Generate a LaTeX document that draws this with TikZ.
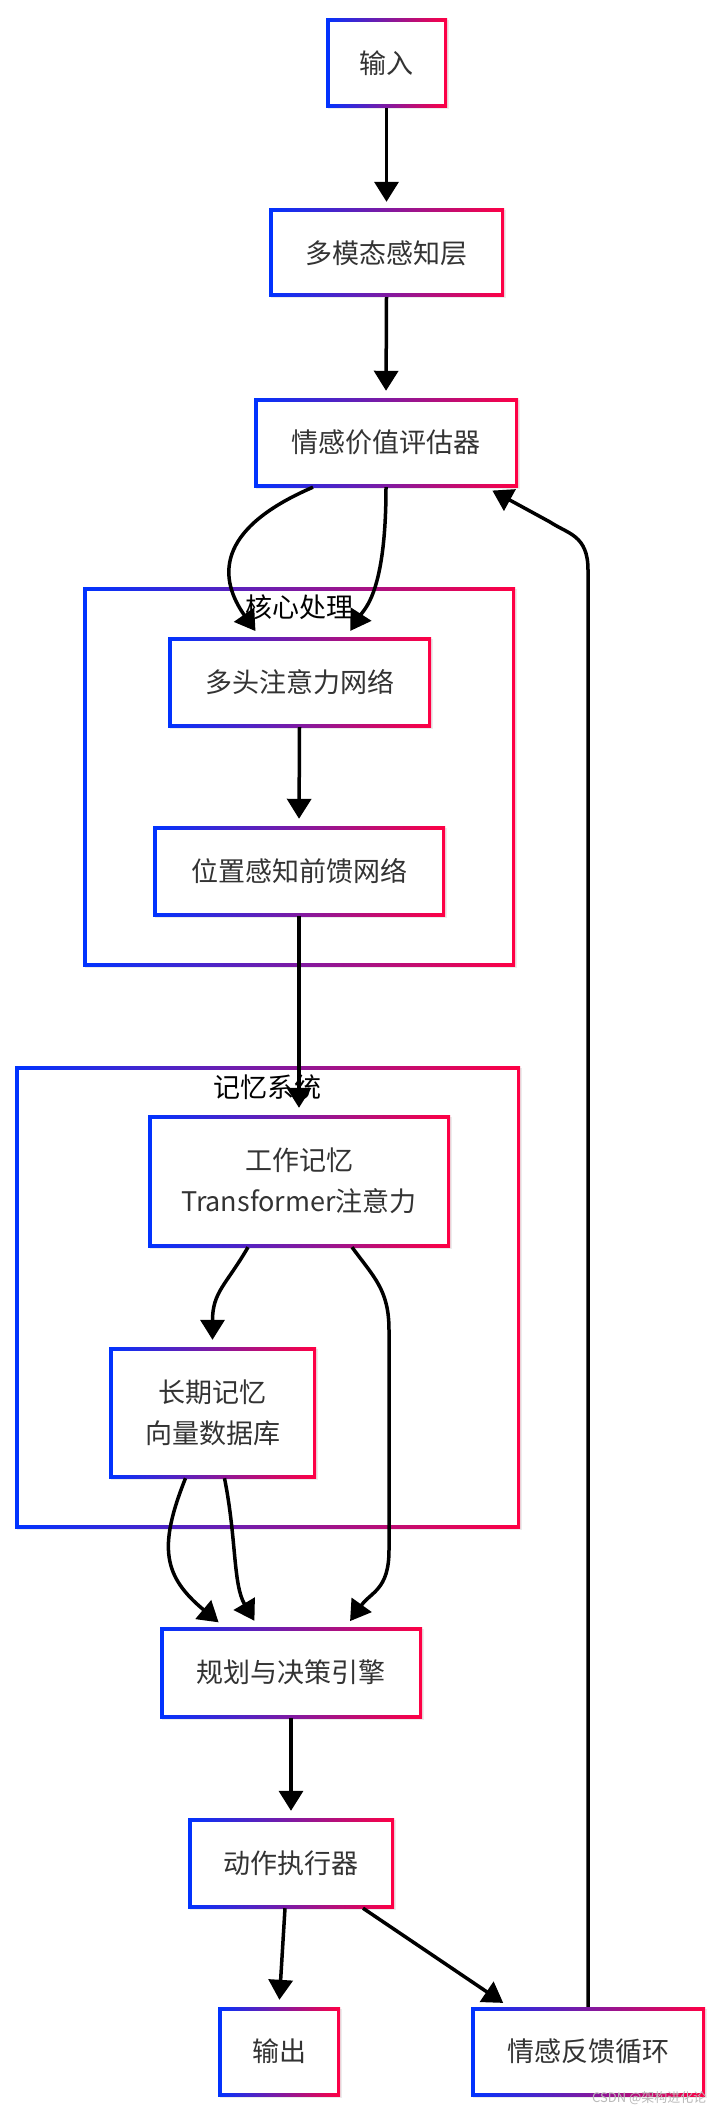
\documentclass[tikz,border=0pt]{standalone}
\usepackage{fontspec}
\setmainfont{Noto Sans CJK SC}
\usetikzlibrary{arrows.meta,shadows}
\definecolor{gBlue}{RGB}{0,51,255}
\definecolor{gRed}{RGB}{255,0,68}
\definecolor{txtGray}{RGB}{51,51,51}
\newcommand{\waypt}[2]{\coordinate (#1) at (#2);}
\tikzset{
  gbox/.style={rectangle,inner sep=0pt,left color=gBlue,right color=gRed,
    text=txtGray,align=center,font=\fontsize{27}{41}\selectfont,
    drop shadow={shadow xshift=1.5pt,shadow yshift=-1.5pt,opacity=0.15},
    path picture={\fill[white] ([shift={(3.5pt,-3.5pt)}]path picture bounding box.north west)
      rectangle ([shift={(-3.5pt,3.5pt)}]path picture bounding box.south east);}},
  grouptitle/.style={font=\fontsize{27}{30}\selectfont,text=black},
  flow/.style={line width=3.5pt,-{Triangle[length=20pt,width=24pt]},shorten >=7pt},
}

\begin{document}
\begin{tikzpicture}[x=1pt,y=-1pt]
    \fill[white] (0,0) rectangle (717,2116);
    \useasboundingbox (0,0) rectangle (717,2116);
    % groups
    \node[gbox,minimum width=432pt,minimum height=379pt] (core) at (299,776.5) {};
    \node[gbox,minimum width=505pt,minimum height=462pt] (mem) at (267.5,1297) {};
    \node[grouptitle] (coreT) at (299,607) {核心处理};
    \node[grouptitle] (memT) at (267.5,1087) {记忆系统};
    % boxes
    \node[gbox,minimum width=121pt,minimum height=89pt] (in) at (386.5,63.5) {输入};
    \node[gbox,minimum width=235pt,minimum height=88pt] (mm) at (386.5,253) {多模态感知层};
    \node[gbox,minimum width=264pt,minimum height=89pt] (ev) at (386,442.5) {情感价值评估器};
    \node[gbox,minimum width=263pt,minimum height=90pt] (mh) at (299.5,682) {多头注意力网络};
    \node[gbox,minimum width=292pt,minimum height=90pt] (pf) at (299,871) {位置感知前馈网络};
    \node[gbox,minimum width=302pt,minimum height=132pt] (wm) at (299,1181) {工作记忆\\Transformer注意力};
    \node[gbox,minimum width=207pt,minimum height=131pt] (lt) at (212.5,1412.5) {长期记忆\\向量数据库};
    \node[gbox,minimum width=262pt,minimum height=91pt] (pl) at (291,1672.5) {规划与决策引擎};
    \node[gbox,minimum width=206pt,minimum height=90pt] (ac) at (291,1863) {动作执行器};
    \node[gbox,minimum width=122pt,minimum height=89pt] (out) at (279,2051.5) {输出};
    \node[gbox,minimum width=234pt,minimum height=89pt] (fb) at (588,2051.5) {情感反馈循环};
    % bends
    \waypt{wr1}{389,1330}
    \waypt{wr2}{389,1550}
    \waypt{fb1}{588,570}
    \waypt{fb2}{550,522}
    % edges
    \draw[flow] (in.south) -- (mm.north);
    \draw[flow] (mm.south) -- (ev.north);
    \draw[flow] ([xshift=-73pt]ev.south) .. controls +(-100,43) and +(-40,-57) .. ([xshift=-40pt]mh.north);
    \draw[flow] (ev.south) .. controls +(0,105) and +(18,-28) .. ([xshift=47pt]mh.north);
    \draw[flow] (mh.south) -- (pf.north);
    \draw[flow] (pf.south) -- (wm.north);
    \draw[flow] ([xshift=-51pt]wm.south) .. controls +(-22,38) and +(0,-55) .. (lt.north);
    \draw[flow] ([xshift=53pt]wm.south) .. controls +(22,30) and +(0,-40) .. (wr1) -- (wr2) .. controls +(0,40) and +(25,-35) .. ([xshift=55pt]pl.north);
    \draw[flow] ([xshift=-27pt]lt.south) .. controls +(-28,70) and +(-60,-50) .. ([xshift=-67pt]pl.north);
    \draw[flow] ([xshift=12pt]lt.south) .. controls +(12,60) and +(-25,-42) .. ([xshift=-33pt]pl.north);
    \draw[flow] (pl.south) -- (ac.north);
    \draw[flow] ([xshift=-6pt]ac.south) -- (out.north);
    \draw[flow] ([xshift=72pt]ac.south) -- ([xshift=-79pt]fb.north);
    \draw[flow] (fb.north) -- (fb1) .. controls +(0,-35) and +(18,12) .. (fb2) -- ([xshift=-32pt]ev.south east);
    % watermark
    \node[font=\fontsize{13}{13}\selectfont,text=gray!55,anchor=east] (mark) at (710,2098) {CSDN @架构进化论};
\end{tikzpicture}
\end{document}
